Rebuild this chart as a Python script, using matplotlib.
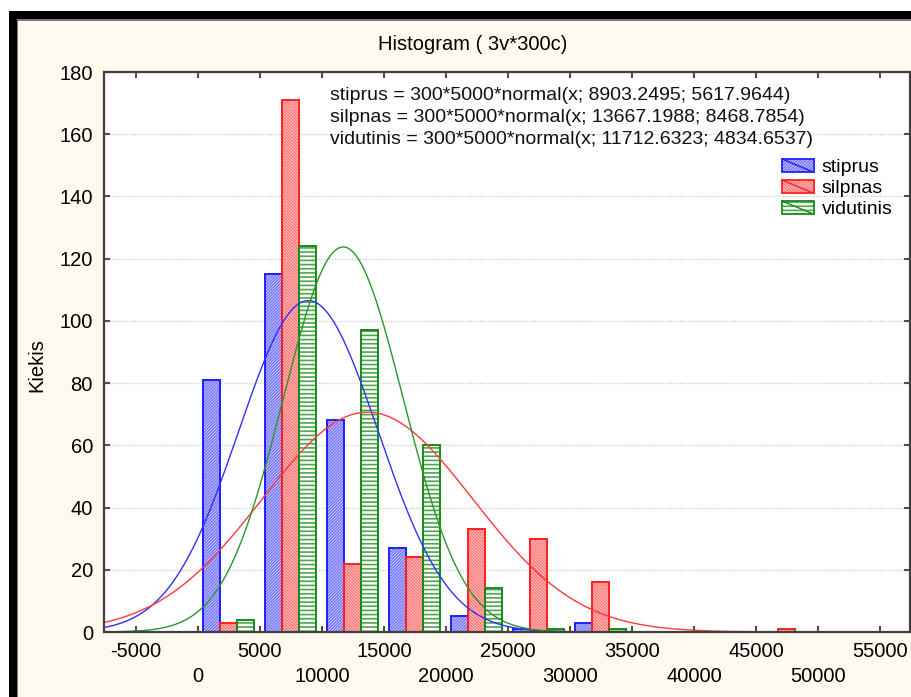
import numpy as np
import matplotlib
matplotlib.use("Agg")
import matplotlib.pyplot as plt
from matplotlib.patches import Rectangle
from matplotlib.lines import Line2D
from matplotlib.legend_handler import HandlerBase

plt.rcParams['font.family'] = ['Liberation Sans', 'DejaVu Sans']
plt.rcParams['hatch.linewidth'] = 1.2

# ---- data ----
bin_left = [0, 5000, 10000, 15000, 20000, 25000, 30000, 35000, 40000, 45000]
bin_width = 5000
series_names = ["stiprus", "silpnas", "vidutinis"]
stiprus = [81, 115, 68, 27, 5, 1, 3, 0, 0, 0]
silpnas = [3, 171, 22, 24, 33, 30, 16, 0, 0, 1]
vidutinis = [4, 124, 97, 60, 14, 1, 1, 0, 0, 0]
fit_means = [8903.2495, 13667.1988, 11712.6323]
fit_sds = [5617.9644, 8468.7854, 4834.6537]
n_obs = 300
x_ticks = list(range(-5000, 55001, 5000))
y_ticks = list(range(0, 181, 20))
title = "Histogram ( 3v*300c)"
ylabel = "Kiekis"

# ---- styles ----
edge_cols = ["#1f1fff", "#ff2020", "#178a17"]
hatch_cols = ["#7878ff", "#ff7878", "#4aa84a"]
hatches = ["/" * 11, "\\" * 11, "----"]
line_cols = ["#3030ff", "#ff3a3a", "#2a962a"]

W, H = 912, 697
fig = plt.figure(figsize=(W / 100, H / 100), dpi=100, facecolor="#fffaf0")

# window border
def fr(x0, y0, x1, y1, color, z=0):
    fig.add_artist(Rectangle((x0 / W, 1 - y1 / H), (x1 - x0) / W, (y1 - y0) / H,
                             transform=fig.transFigure, facecolor=color,
                             edgecolor="none", zorder=z))
fr(0, 0, W, 11, "white")
fr(0, 0, 9, H, "white")
fr(9, 11, W, 19, "black")
fr(9, 11, 17, H, "black")
fr(17, 19, W, 20.5, "#7a7a7a")
fr(17, 19, 18.5, H, "#7a7a7a")

ax_l, ax_r, ax_t, ax_b = 104, 910, 72, 632
ax = fig.add_axes([ax_l / W, 1 - ax_b / H, (ax_r - ax_l) / W, (ax_b - ax_t) / H])
ax.set_facecolor("white")

x0 = (ax_l - 198) * 5000 / 62
x1 = (ax_r - 198) * 5000 / 62
ax.set_xlim(x0, x1)
ax.set_ylim(0, 180)

data = [stiprus, silpnas, vidutinis]
sub_w = bin_width * 0.274
off = bin_width * 0.08
for i, vals in enumerate(data):
    lefts = [b + off + i * sub_w for b, v in zip(bin_left, vals) if v > 0]
    hs = [v for v in vals if v > 0]
    ax.bar(lefts, hs, width=sub_w, align="edge", facecolor="white",
           edgecolor=hatch_cols[i], hatch=hatches[i], linewidth=0, zorder=1.5)
    ax.bar(lefts, hs, width=sub_w, align="edge", fill=False,
           edgecolor=edge_cols[i], linewidth=1.4, zorder=1.6)

xs = np.linspace(x0, x1, 800)
for i in range(3):
    m, s = fit_means[i], fit_sds[i]
    ys = n_obs * bin_width * np.exp(-0.5 * ((xs - m) / s) ** 2) / (s * np.sqrt(2 * np.pi))
    ax.plot(xs, ys, color=line_cols[i], lw=1.0, zorder=2)

# grid
ax.set_yticks(y_ticks)
ax.yaxis.grid(True, color="#cfcfcf", linestyle=(0, (1, 1)), linewidth=1.0)
ax.set_axisbelow(True)

major = [t for t in x_ticks if (t // 5000) % 2 != 0]
minor = [t for t in x_ticks if (t // 5000) % 2 == 0]
ax.set_xticks(major)
ax.set_xticklabels([str(t) for t in major])
ax.set_xticks(minor, minor=True)
ax.set_xticklabels([str(t) for t in minor], minor=True)

fs = 14.5
fs2 = 14
ax.tick_params(axis="x", which="major", direction="in", length=4, width=1.5,
               color="#505050", labelsize=fs, pad=7, top=True)
ax.tick_params(axis="x", which="minor", direction="in", length=4, width=1.5,
               color="#505050", labelsize=fs, pad=25, top=True)
ax.tick_params(axis="y", direction="in", length=4, width=1.5, color="#505050",
               labelsize=fs, pad=8, right=True)
for sp in ax.spines.values():
    sp.set_color("#404040")
    sp.set_linewidth(1.6)

fig.text(473 / W, 1 - 45 / H, title, ha="center", va="center", fontsize=fs)
fig.text(37 / W, 1 - 365 / H, ylabel, ha="center", va="center", rotation=90, fontsize=fs)

eq_lines = [f"{n} = {n_obs}*{bin_width}*normal(x; {m:.4f}; {s:.4f})"
            for n, m, s in zip(series_names, fit_means, fit_sds)]
for k, txt in enumerate(eq_lines):
    fig.text(330 / W, 1 - (95 + k * 22.5) / H, txt, ha="left", va="center",
             fontsize=fs2, color="#111111")


class PatchLineHandler(HandlerBase):
    def create_artists(self, legend, orig_handle, xdescent, ydescent, width,
                       height, fontsize, trans):
        i = orig_handle
        r = Rectangle((-xdescent, -ydescent), width, height, facecolor="white",
                      edgecolor=hatch_cols[i], hatch=hatches[i], lw=0, transform=trans)
        r2 = Rectangle((-xdescent, -ydescent), width, height, fill=False,
                       edgecolor=edge_cols[i], lw=1.3, transform=trans)
        ln = Line2D([-xdescent, -xdescent + width], [-ydescent + height, -ydescent],
                    color=edge_cols[i], lw=1.0, transform=trans)
        return [r, r2, ln]


handles = [0, 1, 2]
leg = fig.legend(handles, series_names, loc="upper left",
                 bbox_to_anchor=(782 / W, 1 - 159 / H), frameon=False,
                 fontsize=fs2, handlelength=1.65, handleheight=0.68,
                 handletextpad=0.4, labelspacing=0.18, borderpad=0,
                 borderaxespad=0,
                 handler_map={int: PatchLineHandler()})

fig.savefig("out.png", dpi=100, facecolor=fig.get_facecolor())
